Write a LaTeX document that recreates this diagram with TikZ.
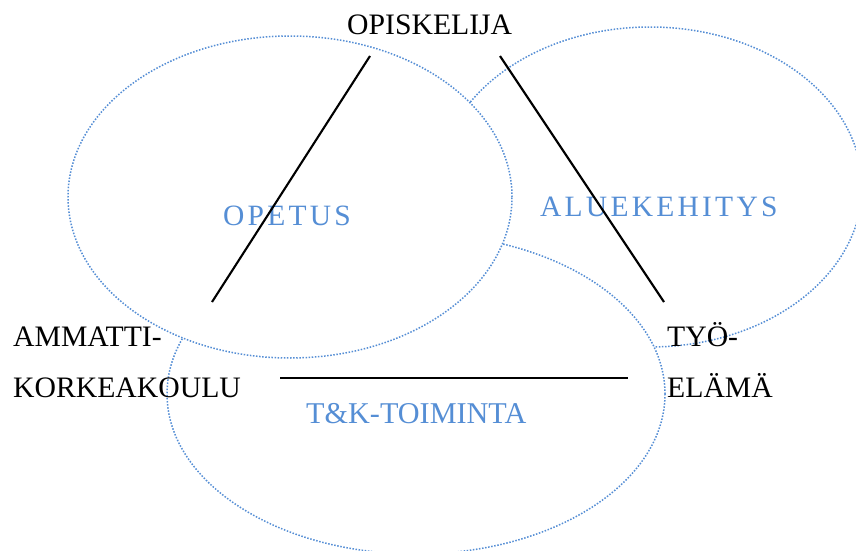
\documentclass[tikz,border=0pt]{standalone}
\usepackage{fontspec}
\setmainfont{Liberation Serif}
\usetikzlibrary{shapes.geometric}
\definecolor{ringblue}{RGB}{85,142,213}
\begin{document}
\begin{tikzpicture}[x=1pt,y=-1pt,
  ring/.style={ellipse, draw=ringblue, fill=white, line width=1.5pt,
    dash pattern=on 1.5pt off 1.6pt, inner sep=0pt},
  blacktext/.style={inner sep=0pt, anchor=base west,
    font=\fontsize{29.7}{35}\selectfont},
  bluetext/.style={blacktext, text=ringblue},
  spaced/.style={font=\fontsize{29.5}{35}\selectfont\addfontfeature{LetterSpace=11}},
  link/.style={line width=2.1pt}]
\useasboundingbox (0,0) rectangle (856,551);

% three overlapping areas, back to front
\node[ring, minimum width=424pt, minimum height=320pt] (alue) at (650,187) {};
\node[ring, minimum width=498pt, minimum height=320pt] (tk) at (416,394) {};
\node[ring, minimum width=444pt, minimum height=322pt] (opetus) at (290,197) {};

% area names
\node[bluetext, spaced] (opetusname) at (223,225) {OPETUS};
\node[bluetext, font=\fontsize{30.2}{36}\selectfont] (tkname) at (306,423) {T\&K-TOIMINTA};
\node[bluetext, spaced] (aluename) at (540,216) {ALUEKEHITYS};

% actors
\node[blacktext] (opiskelija) at (347,35) {OPISKELIJA};
\node[blacktext] (amk1) at (13,346) {AMMATTI-};
\node[blacktext] (amk2) at (13,397) {KORKEAKOULU};
\node[blacktext] (tyo1) at (667,346) {TYÖ-};
\node[blacktext] (tyo2) at (667,397) {ELÄMÄ};

% triangle sides
\coordinate (s1a) at (370,56);
\coordinate (s1b) at (212,302);
\coordinate (s2a) at (500,56);
\coordinate (s2b) at (664,302);
\coordinate (s3a) at (280,378);
\coordinate (s3b) at (628,378);
\draw[link] (s1a) -- (s1b);
\draw[link] (s2a) -- (s2b);
\draw[link] (s3a) -- (s3b);
\end{tikzpicture}
\end{document}
